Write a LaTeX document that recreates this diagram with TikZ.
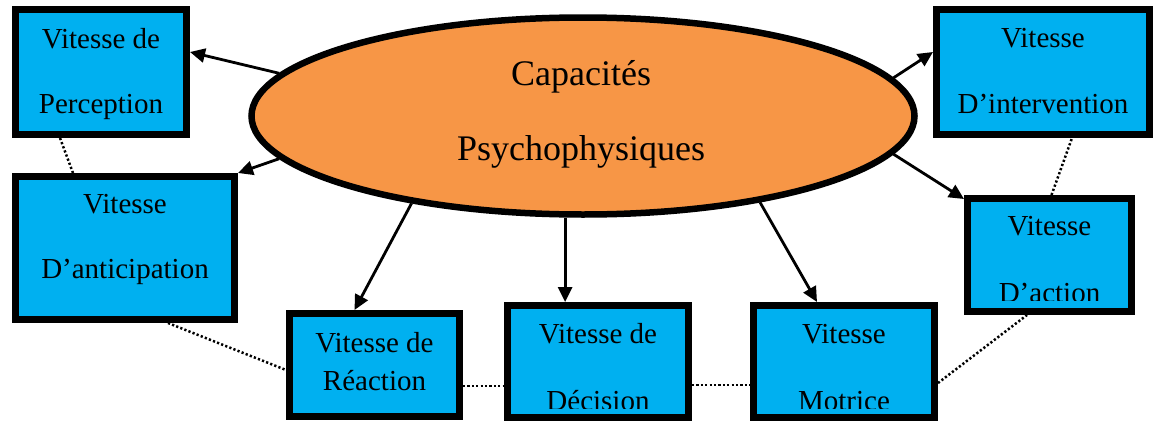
\documentclass[tikz,border=0pt]{standalone}
\usepackage{fontspec}
\setmainfont{Liberation Serif}
\usetikzlibrary{arrows.meta,shapes.geometric}
\definecolor{boxblue}{HTML}{00B0F0}
\definecolor{capsorange}{HTML}{F79646}
\begin{document}
\begin{tikzpicture}[x=1pt,y=-1pt,
  speedbox/.style={draw=black,fill=boxblue,line width=7pt,rectangle,inner sep=0pt},
  boxtext/.style={anchor=base,inner sep=0pt,font=\fontsize{29}{34}\selectfont},
  hub/.style={ellipse,draw=black,fill=capsorange,line width=6.5pt,inner sep=0pt,
    minimum width=663pt,minimum height=197pt},
  hubtext/.style={anchor=base,inner sep=0pt,font=\fontsize{36}{42}\selectfont},
  link/.style={line width=2.8pt,-{Triangle[length=15pt,width=14pt]}},
  chain/.style={line width=2.5pt,dash pattern=on 2.2pt off 2.2pt}]
\useasboundingbox (0,0) rectangle (1156,423);

% the seven speed boxes
\node[speedbox,minimum width=171pt,minimum height=125pt] (perc) at (101,72) {};
\node[speedbox,minimum width=219pt,minimum height=143pt] (ant)  at (125,248) {};
\node[speedbox,minimum width=170pt,minimum height=103pt] (rea)  at (374.5,365) {};
\node[speedbox,minimum width=181pt,minimum height=112pt] (dec)  at (598,361.5) {};
\node[speedbox,minimum width=181pt,minimum height=112pt] (mot)  at (844,361.5) {};
\node[speedbox,minimum width=164pt,minimum height=113pt] (act)  at (1049.5,255) {};
\node[speedbox,minimum width=213pt,minimum height=125pt] (int)  at (1043,72) {};

% dotted chain linking the boxes
\draw[chain] ([xshift=-41pt]perc.south) -- ([xshift=-52pt]ant.north);
\draw[chain] ([xshift=43pt]ant.south) -- ([yshift=-5pt]rea.west);
\draw[chain] ([yshift=-21pt]rea.east) -- ([yshift=-21pt]rea.east -| dec.west);
\draw[chain] ([yshift=-23.5pt]dec.east) -- ([yshift=-23.5pt]dec.east -| mot.west);
\draw[chain] ([yshift=-21.5pt]mot.east) -- ([xshift=-22.5pt]act.south);
\draw[chain] ([xshift=2pt]act.north) -- ([xshift=29pt]int.south);

% box labels
\node[boxtext] (perc1) at (101,48) {Vitesse de};
\node[boxtext] (perc2) at (101,113) {Perception};
\node[boxtext] (ant1) at (125,213) {Vitesse};
\node[boxtext] (ant2) at (125,278) {D’anticipation};
\node[boxtext] (rea1) at (374.5,352) {Vitesse de};
\node[boxtext] (rea2) at (374.5,390) {Réaction};
\node[boxtext] (int1) at (1043,47) {Vitesse};
\node[boxtext] (int2) at (1043,113) {D’intervention};
\begin{scope}
  \clip (dec.north west) rectangle ([yshift=13pt]dec.south east);
  \node[boxtext] (dec1) at (598,343) {Vitesse de};
  \node[boxtext] (dec2) at (598,410) {Décision};
\end{scope}
\begin{scope}
  \clip (mot.north west) rectangle ([yshift=13pt]mot.south east);
  \node[boxtext] (mot1) at (844,343) {Vitesse};
  \node[boxtext] (mot2) at (844,410) {Motrice};
\end{scope}
\begin{scope}
  \clip (act.north west) rectangle ([yshift=15pt]act.south east);
  \node[boxtext] (act1) at (1049.5,235) {Vitesse};
  \node[boxtext] (act2) at (1049.5,302) {D’action};
\end{scope}

% central ellipse
\node[hub] (ell) at (583,116) {};
\node[hubtext] (cap1) at (581,85) {Capacités};
\node[hubtext] (cap2) at (581,160) {Psychophysiques};

% arrows from the ellipse to the boxes
\draw[link] (ell.172.7) -- ([yshift=20pt]perc.east);
\draw[link] (ell.188.1) -- (ant.north east);
\draw[link] (ell.207) -- ([xshift=-20pt]rea.north);
\draw[link] (ell.260) -- (ell.260 |- dec.north);
\draw[link] (ell.-26) -- ([xshift=-27pt]mot.north);
\draw[link] (ell.-7.7) -- ([yshift=-4pt]act.north west);
\draw[link] (ell.7.3) -- ([yshift=20pt]int.west);
\end{tikzpicture}
\end{document}
